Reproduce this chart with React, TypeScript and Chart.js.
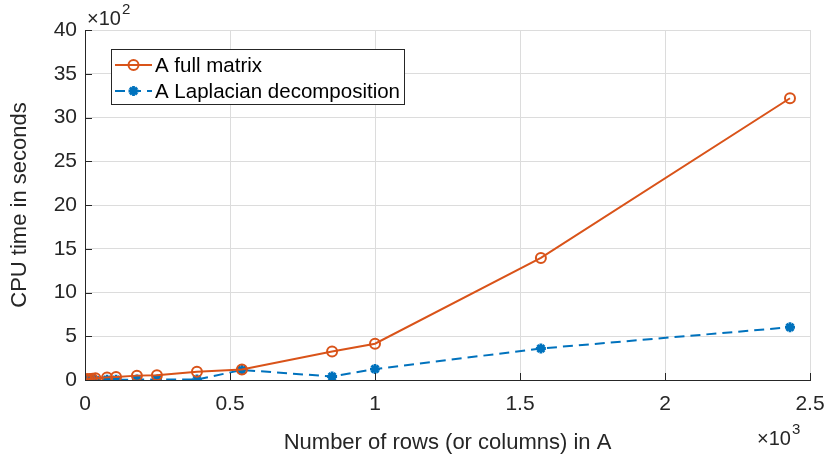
import React, { useEffect, useRef } from 'react';
import { Chart, registerables } from 'chart.js';

Chart.register(...registerables);

// Number of rows (or columns) in A, in units of 10^3
const rowsK = [0.004, 0.009, 0.016, 0.025, 0.036, 0.076, 0.107, 0.179, 0.248, 0.386, 0.541, 0.852, 1.0, 1.572, 2.431];
// CPU time in seconds, in units of 10^2
const fullMatrix = [0.08, 0.1, 0.12, 0.15, 0.2, 0.3, 0.35, 0.5, 0.55, 0.95, 1.2, 3.25, 4.15, 13.95, 32.2];
const laplacian = [0.0, 0.0, 0.01, 0.01, 0.01, 0.02, 0.03, 0.05, 0.07, 0.05, 1.15, 0.4, 1.25, 3.6, 6.03];

const seriesLabels = ['A full matrix', 'A Laplacian decomposition'];
const xTickValues = [0, 0.5, 1, 1.5, 2, 2.5];
const yTickValues = [0, 5, 10, 15, 20, 25, 30, 35, 40];
const xTitle = 'Number of rows (or columns) in A';
const yTitle = 'CPU time in seconds';
const xExponent = '3';
const yExponent = '2';

const FONT = '"Liberation Sans", Arial, Helvetica, sans-serif';
const ORANGE = '#D95319';
const BLUE = '#0072BD';
const AXIS = '#262626';
const GRID = '#dcdcdc';

function drawMarker(ctx: CanvasRenderingContext2D, style: string, x: number, y: number, r: number, color: string, lw: number) {
  ctx.save();
  ctx.setLineDash([]);
  ctx.strokeStyle = color;
  ctx.lineWidth = lw;
  ctx.beginPath();
  if (style === 'circle') {
    ctx.arc(x, y, r, 0, Math.PI * 2);
  } else {
    for (let k = 0; k < 4; k++) {
      const a = (k * Math.PI) / 4;
      ctx.moveTo(x - Math.cos(a) * r, y - Math.sin(a) * r);
      ctx.lineTo(x + Math.cos(a) * r, y + Math.sin(a) * r);
    }
  }
  ctx.stroke();
  ctx.restore();
}

const decorPlugin = {
  id: 'matlabDecor',
  afterDraw(chart: any) {
    const ctx: CanvasRenderingContext2D = chart.ctx;
    const { left, bottom } = chart.chartArea;
    const xs = chart.scales.x;
    const ys = chart.scales.y;
    ctx.save();
    // inward tick marks
    ctx.strokeStyle = AXIS;
    ctx.lineWidth = 1;
    ctx.beginPath();
    yTickValues.forEach((v) => {
      const py = Math.round(ys.getPixelForValue(v)) + 0.5;
      ctx.moveTo(left, py);
      ctx.lineTo(left + 7, py);
    });
    xTickValues.forEach((v) => {
      const px = Math.round(xs.getPixelForValue(v)) + 0.5;
      ctx.moveTo(px, bottom);
      ctx.lineTo(px, bottom - 7);
    });
    ctx.stroke();

    // exponent labels
    ctx.fillStyle = AXIS;
    ctx.textBaseline = 'alphabetic';
    ctx.textAlign = 'left';
    ctx.font = `20px ${FONT}`;
    ctx.fillText('\u00d710', 87, 25);
    let w = ctx.measureText('\u00d710').width;
    ctx.font = `15px ${FONT}`;
    ctx.fillText(yExponent, 87 + w + 1, 14);
    ctx.font = `20px ${FONT}`;
    ctx.fillText('\u00d710', 757, 445);
    w = ctx.measureText('\u00d710').width;
    ctx.font = `15px ${FONT}`;
    ctx.fillText(xExponent, 757 + w + 1, 434);

    // legend
    const bx = 111.5, by = 49.5, bw = 293, bh = 55;
    ctx.fillStyle = '#ffffff';
    ctx.fillRect(bx, by, bw, bh);
    ctx.strokeStyle = AXIS;
    ctx.lineWidth = 1;
    ctx.strokeRect(bx, by, bw, bh);
    chart.data.datasets.forEach((ds: any, i: number) => {
      const y = 65 + i * 26;
      ctx.save();
      ctx.strokeStyle = ds.borderColor;
      ctx.lineWidth = ds.borderWidth;
      ctx.setLineDash(ds.borderDash || []);
      ctx.beginPath();
      ctx.moveTo(115, y);
      ctx.lineTo(152, y);
      ctx.stroke();
      ctx.restore();
      drawMarker(ctx, ds.pointStyle, 133.5, y, ds.pointRadius, ds.borderColor, ds.pointBorderWidth);
      ctx.fillStyle = '#000000';
      ctx.font = `20.5px ${FONT}`;
      ctx.textBaseline = 'middle';
      ctx.fillText(ds.label, 155, y + 1);
    });
    ctx.restore();
  },
};

export default function App() {
  const ref = useRef<HTMLCanvasElement | null>(null);
  useEffect(() => {
    document.body.style.margin = '0';
    const canvas = ref.current;
    if (!canvas) return;
    const chart = new Chart(canvas, {
      type: 'line',
      data: {
        datasets: [
          {
            label: seriesLabels[0],
            data: rowsK.map((x, i) => ({ x, y: fullMatrix[i] })),
            borderColor: ORANGE,
            backgroundColor: 'rgba(0,0,0,0)',
            borderWidth: 2,
            pointStyle: 'circle',
            pointRadius: 5,
            pointBorderWidth: 2,
            pointBorderColor: ORANGE,
            pointBackgroundColor: 'rgba(0,0,0,0)',
            tension: 0,
          },
          {
            label: seriesLabels[1],
            data: rowsK.map((x, i) => ({ x, y: laplacian[i] })),
            borderColor: BLUE,
            backgroundColor: BLUE,
            borderWidth: 2,
            borderDash: [10, 6],
            pointStyle: 'star',
            pointRadius: 5,
            pointBorderWidth: 2.8,
            pointBorderColor: BLUE,
            pointBackgroundColor: BLUE,
            tension: 0,
          },
        ],
      },
      options: {
        responsive: false,
        animation: false,
        devicePixelRatio: 1,
        layout: { padding: { left: 0, top: 30, right: 18, bottom: 0 } },
        plugins: { legend: { display: false }, tooltip: { enabled: false } },
        scales: {
          x: {
            type: 'linear',
            min: 0,
            max: 2.5,
            afterFit: (s: any) => { s.height = 84; s.paddingLeft = 0; s.paddingRight = 18; },
            afterBuildTicks: (s: any) => { s.ticks = xTickValues.map((v) => ({ value: v })); },
            ticks: {
              padding: 12,
              color: AXIS,
              font: { family: FONT, size: 21 },
              callback: (v: any) => String(v),
              maxRotation: 0,
            },
            grid: { color: GRID, lineWidth: 1, drawTicks: false },
            border: { color: AXIS, width: 1 },
            title: {
              display: true,
              text: xTitle,
              color: AXIS,
              font: { family: FONT, size: 22 },
              padding: { top: 0, bottom: 8 },
            },
          },
          y: {
            type: 'linear',
            min: 0,
            max: 40,
            afterFit: (s: any) => { s.width = 85; },
            afterBuildTicks: (s: any) => { s.ticks = yTickValues.map((v) => ({ value: v })); },
            ticks: {
              padding: 8,
              color: AXIS,
              font: { family: FONT, size: 21 },
              callback: (v: any) => String(v),
            },
            grid: { color: GRID, lineWidth: 1, drawTicks: false },
            border: { color: AXIS, width: 1 },
            title: {
              display: true,
              text: yTitle,
              color: AXIS,
              font: { family: FONT, size: 22 },
              padding: { top: 7, bottom: 0 },
            },
          },
        },
      },
      plugins: [decorPlugin],
    } as any);
    return () => chart.destroy();
  }, []);
  return <canvas ref={ref} width={828} height={464} style={{ display: 'block' }} />;
}
